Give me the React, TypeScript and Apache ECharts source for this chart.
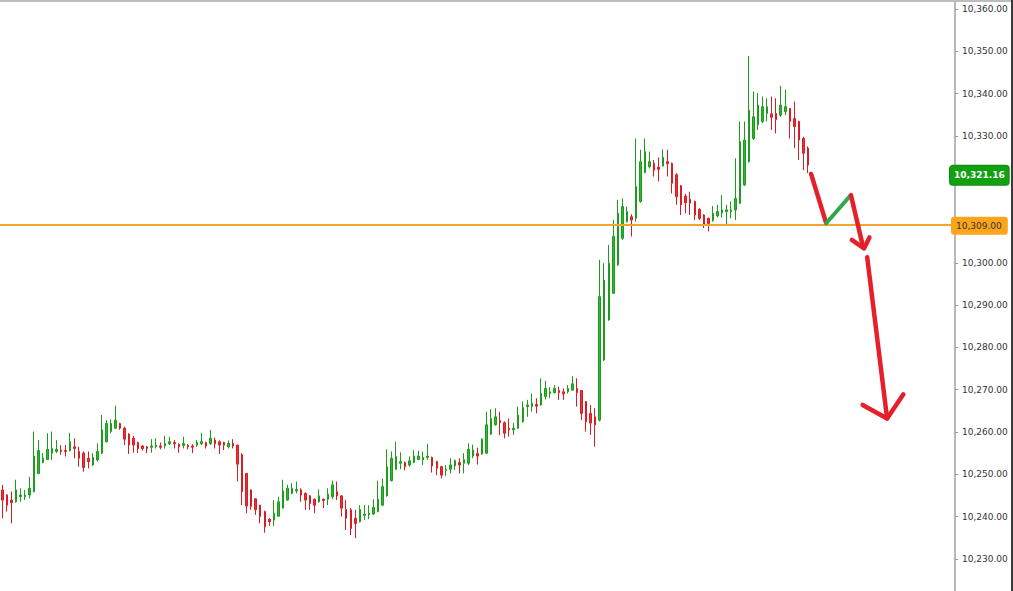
import React, { useEffect, useRef } from "react";
import * as echarts from "echarts";

const opens = [
  10246.3, 10245.1, 10243.9, 10243.5, 10244.7, 10244.7, 10245.1, 10245.9, 10250.2, 10252.8,
  10253.5, 10255.0, 10255.4, 10255.7, 10255.6, 10255.6, 10256.5, 10255.4, 10255.0, 10253.8,
  10252.2, 10253.4, 10255.0, 10257.7, 10260.1, 10260.9, 10262.0, 10260.9, 10259.5, 10258.5,
  10257.5, 10256.7, 10256.5, 10256.4, 10256.5, 10256.7, 10256.7, 10257.2, 10257.5, 10257.1,
  10256.8, 10256.8, 10256.7, 10256.9, 10257.2, 10257.5, 10257.3, 10258.1, 10257.7, 10257.5,
  10256.5, 10257.3, 10256.9, 10254.6, 10250.2, 10246.3, 10244.2, 10242.7, 10241.2, 10239.4,
  10239.2, 10240.1, 10242.0, 10243.9, 10245.5, 10246.1, 10246.3, 10245.5, 10244.9, 10244.1,
  10243.5, 10244.1, 10244.1, 10244.7, 10245.9, 10244.9, 10241.7, 10241.6, 10239.6, 10238.8,
  10240.3, 10240.4, 10240.6, 10241.2, 10242.7, 10244.9, 10248.5, 10251.2, 10252.6, 10252.8,
  10252.2, 10252.8, 10253.5, 10253.4, 10254.0, 10254.0, 10253.0, 10251.8, 10250.9, 10251.2,
  10252.0, 10252.8, 10252.6, 10252.6, 10254.3, 10254.9, 10254.8, 10255.0, 10259.5, 10261.7,
  10262.7, 10262.2, 10260.9, 10260.5, 10260.9, 10262.4, 10266.0, 10266.0, 10266.5, 10266.4,
  10268.4, 10269.1, 10269.3, 10269.8, 10269.5, 10269.5, 10269.9, 10270.3, 10269.8, 10267.2,
  10264.4, 10263.6, 10262.8, 10277.0, 10286.5, 10292.8, 10299.5, 10305.8, 10309.7, 10310.9,
  10310.5, 10314.5, 10321.3, 10322.7, 10323.5, 10322.6, 10322.9, 10323.9, 10323.5, 10320.8,
  10318.2, 10315.8, 10315.0, 10314.5, 10312.6, 10311.3, 10310.5, 10310.0, 10311.1, 10311.8,
  10312.1, 10312.1, 10312.5, 10314.1, 10318.4, 10323.9, 10329.4, 10332.6, 10333.4, 10335.3,
  10335.2, 10335.3, 10334.9, 10335.7, 10336.5, 10334.1, 10333.4, 10329.4, 10327.1,
];
const closes = [
  10243.9, 10242.7, 10243.3, 10246.3, 10245.1, 10245.1, 10246.7, 10254.3, 10255.6, 10253.8,
  10255.9, 10256.1, 10255.9, 10255.4, 10255.4, 10257.7, 10256.1, 10253.8, 10251.6, 10253.0,
  10254.0, 10255.4, 10260.5, 10262.0, 10262.0, 10262.8, 10260.9, 10258.3, 10256.9, 10256.9,
  10256.1, 10256.1, 10256.1, 10256.7, 10256.9, 10256.4, 10257.3, 10257.7, 10257.2, 10256.5,
  10257.3, 10256.5, 10256.4, 10257.5, 10257.7, 10256.7, 10258.5, 10257.2, 10256.9, 10256.9,
  10257.3, 10256.7, 10252.4, 10245.9, 10242.5, 10242.4, 10241.6, 10240.0, 10237.6, 10238.8,
  10240.8, 10243.5, 10246.1, 10246.7, 10246.7, 10246.4, 10245.1, 10243.9, 10243.1, 10242.7,
  10244.9, 10243.8, 10245.3, 10247.5, 10244.9, 10242.0, 10239.6, 10237.2, 10238.4, 10241.7,
  10240.6, 10240.8, 10242.2, 10244.1, 10247.1, 10251.8, 10253.8, 10254.2, 10253.0, 10251.8,
  10253.2, 10254.3, 10254.3, 10254.0, 10254.3, 10252.0, 10251.4, 10249.8, 10251.2, 10252.2,
  10253.2, 10252.2, 10253.5, 10255.9, 10255.7, 10254.3, 10258.3, 10261.7, 10263.2, 10263.6,
  10262.2, 10259.7, 10260.5, 10260.9, 10264.0, 10265.8, 10266.4, 10266.8, 10266.1, 10269.1,
  10270.3, 10269.5, 10270.3, 10269.3, 10269.0, 10270.3, 10271.4, 10269.3, 10264.4, 10262.4,
  10262.1, 10261.7, 10292.0, 10295.9, 10299.9, 10306.2, 10311.7, 10313.3, 10312.1, 10310.1,
  10318.0, 10323.9, 10326.3, 10323.9, 10321.9, 10322.1, 10324.9, 10323.4, 10318.8, 10315.6,
  10313.7, 10314.2, 10314.1, 10311.3, 10310.5, 10308.9, 10309.3, 10311.7, 10312.1, 10312.5,
  10312.5, 10312.5, 10315.2, 10328.6, 10329.0, 10336.1, 10334.5, 10337.3, 10336.9, 10336.9,
  10334.4, 10333.8, 10337.3, 10336.9, 10333.4, 10332.2, 10329.0, 10325.9, 10323.1,
];
const lows = [
  10239.6, 10241.2, 10238.4, 10243.3, 10243.5, 10243.9, 10244.3, 10245.7, 10250.0, 10252.6,
  10253.4, 10253.4, 10255.0, 10254.6, 10254.2, 10255.4, 10253.8, 10251.8, 10250.6, 10251.4,
  10252.0, 10253.0, 10254.8, 10257.5, 10259.7, 10260.7, 10260.5, 10256.9, 10254.8, 10255.1,
  10255.0, 10255.6, 10255.0, 10255.1, 10256.1, 10255.9, 10256.1, 10256.9, 10256.1, 10255.1,
  10256.1, 10255.9, 10255.0, 10256.5, 10256.9, 10256.1, 10256.9, 10256.1, 10254.8, 10255.7,
  10256.1, 10256.1, 10248.3, 10242.7, 10240.8, 10241.6, 10240.4, 10238.4, 10236.2, 10237.8,
  10237.8, 10240.0, 10241.9, 10243.8, 10245.3, 10245.5, 10243.5, 10241.6, 10241.6, 10240.8,
  10243.3, 10242.0, 10242.7, 10244.1, 10243.9, 10240.0, 10236.8, 10235.6, 10234.9, 10238.6,
  10239.2, 10239.4, 10240.4, 10241.0, 10242.5, 10244.7, 10248.3, 10251.0, 10251.2, 10250.9,
  10251.8, 10252.6, 10253.4, 10252.2, 10253.4, 10250.4, 10249.8, 10249.0, 10249.6, 10250.2,
  10251.0, 10250.2, 10250.2, 10252.2, 10253.8, 10252.3, 10254.6, 10254.8, 10259.3, 10261.5,
  10259.3, 10258.5, 10258.9, 10259.3, 10260.7, 10262.2, 10263.6, 10264.8, 10264.4, 10266.2,
  10267.7, 10268.0, 10269.1, 10267.6, 10267.6, 10269.1, 10269.8, 10266.0, 10262.8, 10260.1,
  10259.3, 10256.5, 10262.5, 10276.8, 10286.3, 10292.6, 10299.3, 10305.4, 10309.5, 10306.2,
  10309.7, 10314.2, 10321.2, 10322.3, 10320.4, 10319.2, 10322.7, 10320.4, 10316.4, 10313.7,
  10311.3, 10311.7, 10311.3, 10310.1, 10310.1, 10308.2, 10307.4, 10309.7, 10310.7, 10310.7,
  10308.9, 10310.5, 10310.1, 10313.9, 10318.2, 10323.7, 10329.0, 10331.4, 10333.0, 10333.4,
  10331.4, 10330.6, 10334.5, 10334.9, 10329.4, 10327.1, 10324.3, 10321.9, 10321.2,
];
const highs = [
  10247.5, 10245.3, 10245.9, 10248.7, 10246.7, 10246.3, 10249.4, 10260.1, 10258.1, 10255.0,
  10259.7, 10260.1, 10258.1, 10256.9, 10256.9, 10259.8, 10258.5, 10256.5, 10255.4, 10255.4,
  10255.0, 10257.3, 10264.0, 10262.8, 10263.0, 10266.2, 10262.2, 10261.3, 10259.7, 10259.1,
  10257.7, 10256.9, 10256.7, 10258.3, 10258.5, 10257.5, 10259.1, 10258.9, 10258.1, 10257.3,
  10258.9, 10257.2, 10257.1, 10258.1, 10259.8, 10257.7, 10260.5, 10258.7, 10258.0, 10257.7,
  10258.0, 10258.3, 10257.0, 10255.0, 10250.3, 10246.4, 10244.3, 10242.8, 10241.4, 10239.6,
  10243.9, 10244.7, 10248.7, 10247.5, 10247.9, 10248.3, 10246.7, 10245.7, 10245.1, 10244.3,
  10246.4, 10244.3, 10246.7, 10248.5, 10248.3, 10245.1, 10243.9, 10242.0, 10241.6, 10242.7,
  10242.7, 10242.7, 10244.1, 10248.5, 10249.0, 10255.9, 10255.4, 10257.7, 10255.2, 10253.0,
  10254.2, 10255.7, 10255.6, 10255.4, 10257.2, 10254.2, 10253.2, 10252.0, 10252.2, 10253.8,
  10253.5, 10253.8, 10255.0, 10257.3, 10257.0, 10256.3, 10258.5, 10264.8, 10265.4, 10265.6,
  10264.8, 10262.5, 10263.2, 10262.1, 10266.0, 10267.2, 10267.6, 10269.1, 10268.0, 10272.7,
  10272.1, 10270.6, 10271.1, 10270.7, 10270.3, 10271.1, 10273.2, 10272.7, 10269.9, 10267.3,
  10266.4, 10265.6, 10300.7, 10299.9, 10304.2, 10310.1, 10314.9, 10315.2, 10313.3, 10311.5,
  10329.4, 10326.7, 10329.4, 10326.3, 10324.3, 10324.9, 10326.8, 10326.7, 10323.7, 10321.2,
  10318.4, 10316.3, 10316.8, 10314.7, 10312.9, 10311.5, 10310.7, 10313.4, 10313.7, 10316.0,
  10313.7, 10314.5, 10324.7, 10333.4, 10333.4, 10348.9, 10340.5, 10340.1, 10339.3, 10338.9,
  10339.3, 10338.9, 10341.8, 10340.9, 10336.6, 10338.1, 10333.6, 10329.8, 10327.5,
];

const slotCount = 211;
const supportLevel = 10309;
const lastPrice = 10321.16;
const yAxisMin = 10220;
const yAxisMax = 10361.65;
const yAxisStep = 10;

// hand-drawn arrows, as [bar slot, price]
const arrowDown1 = [[178.7, 10321.0], [182.0, 10309.5]];
const arrowUp = [[182.0, 10309.3], [187.3, 10315.8]];
const arrowDown2 = [[187.5, 10316.0], [190.2, 10303.7]];
const arrowHead2 = [[187.7, 10305.4], [190.4, 10303.4], [191.6, 10306.0]];
const arrowDown3 = [[191.1, 10301.3], [195.5, 10263.2]];
const arrowHead3 = [[190.1, 10266.4], [195.5, 10263.2], [199.1, 10268.9]];

const fmt = (v: number) =>
  v.toLocaleString("en-US", { minimumFractionDigits: 2, maximumFractionDigits: 2 });

const FONT = "DejaVu Sans";

export default function App() {
  const ref = useRef<HTMLDivElement>(null);

  useEffect(() => {
    if (!ref.current) return;
    const chart = echarts.init(ref.current, undefined, { renderer: "svg" });
    const categories = Array.from({ length: slotCount }, (_, i) => String(i));
    const candles = opens.map((o, i) => [o, closes[i], lows[i], highs[i]]);

    const arrowSeries = (data: number[][], color: string, width: number) => ({
      type: "line",
      xAxisIndex: 1,
      yAxisIndex: 0,
      data,
      symbol: "none",
      silent: true,
      z: 6,
      lineStyle: { color, width, cap: "round", join: "round" },
    });

    const RED = "#e5202b";
    const GREEN = "#2ea84c";

    // tick labels hidden behind the price boxes
    const tickLabel = (v: number) =>
      Math.abs(v - supportLevel) < 5 || Math.abs(v - lastPrice) < 5 ? "" : fmt(v);

    chart.setOption({
      animation: false,
      backgroundColor: "#ffffff",
      grid: { left: 0, right: 58, top: 2, bottom: 9.8, containLabel: false },
      xAxis: [
        { type: "category", data: categories, boundaryGap: true, show: false },
        { type: "value", min: -0.5, max: slotCount - 0.5, show: false },
      ],
      yAxis: {
        type: "value",
        position: "right",
        min: yAxisMin,
        max: yAxisMax,
        interval: yAxisStep,
        axisLine: { show: true, onZero: false, lineStyle: { color: "#b8b8b8", width: 2 } },
        axisTick: { show: true, length: 3, lineStyle: { color: "#999999", width: 1 } },
        axisLabel: {
          margin: 7,
          showMaxLabel: false,
          showMinLabel: false,
          formatter: tickLabel,
          color: "#333333",
          fontFamily: FONT,
          fontSize: 9,
        },
        splitLine: { show: false },
      },
      graphic: [
        { type: "rect", shape: { x: 0, y: 0, width: 1011, height: 2 }, style: { fill: "#bdbdbd" }, z: 10 },
        { type: "rect", shape: { x: 1011, y: 0, width: 2, height: 611 }, style: { fill: "#3a3a3a" }, z: 10 },
      ],
      series: [
        {
          type: "candlestick",
          data: candles,
          barWidth: 2,
          itemStyle: {
            color: "#33b533",
            color0: "#e8333a",
            borderColor: "#1c9c1c",
            borderColor0: "#d91c24",
            borderWidth: 1,
          },
          markLine: {
            symbol: ["none", "none"],
            silent: true,
            animation: false,
            data: [
              {
                yAxis: supportLevel,
                lineStyle: { color: "#f2a52c", width: 2, type: "solid" },
                label: {
                  show: true,
                  position: "end",
                  distance: -4,
                  offset: [0, 1],
                  formatter: fmt(supportLevel),
                  backgroundColor: "#fba51d",
                  color: "#333333",
                  lineHeight: 11,
                  padding: [4, 6, 3, 5],
                  borderRadius: 3,
                  fontFamily: FONT,
                  fontSize: 9,
                },
              },
              {
                yAxis: lastPrice,
                lineStyle: { color: "rgba(0,0,0,0)", width: 1, type: "solid" },
                label: {
                  show: true,
                  position: "end",
                  distance: -5,
                  offset: [0, 2],
                  formatter: fmt(lastPrice),
                  backgroundColor: "#10a010",
                  borderColor: "#0b8f0b",
                  borderWidth: 1,
                  color: "#ffffff",
                  fontWeight: "bold",
                  lineHeight: 11,
                  padding: [4, 4, 4, 4],
                  borderRadius: 3,
                  fontFamily: FONT,
                  fontSize: 9,
                },
              },
            ],
          },
        },
        arrowSeries(arrowDown1, RED, 4.5),
        arrowSeries(arrowUp, GREEN, 4),
        arrowSeries(arrowDown2, RED, 4.5),
        arrowSeries(arrowHead2, RED, 4.5),
        arrowSeries(arrowDown3, RED, 4.5),
        arrowSeries(arrowHead3, RED, 4.5),
      ],
    });
    return () => chart.dispose();
  }, []);

  return (
    <div
      style={{
        position: "fixed",
        left: 0,
        top: 0,
        width: 1013,
        height: 591,
        overflow: "hidden",
        background: "#ffffff",
      }}
    >
      <div ref={ref} style={{ width: 1013, height: 611 }} />
    </div>
  );
}
